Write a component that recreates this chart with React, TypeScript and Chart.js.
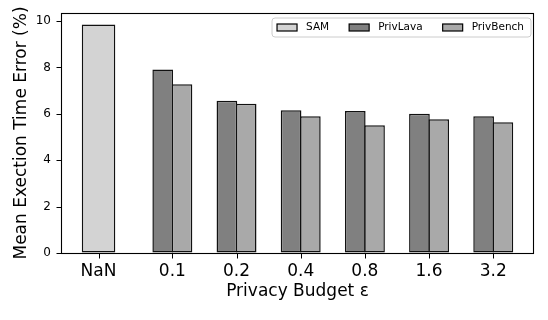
import React, { useEffect, useRef } from 'react';
import { Chart, registerables } from 'chart.js';

Chart.register(...registerables);

// ---- data ----
const categories = ['NaN', '0.1', '0.2', '0.4', '0.8', '1.6', '3.2'];
const seriesLabels = ['SAM', 'PrivLava', 'PrivBench'];
const samValues = [9.85];
const privLavaValues = [7.91, 6.57, 6.16, 6.12, 6.01, 5.9];
const privBenchValues = [7.28, 6.44, 5.9, 5.51, 5.77, 5.64];
const yTicks = [0, 2, 4, 6, 8, 10];

// ---- layout / style ----
const NAN_POS = -1.15;
const OFFSET = 0.15;
const positions = categories.map((_, i) => (i === 0 ? NAN_POS : i - 1));
const colors = ['#d3d3d3', '#808080', '#a9a9a9'];
const FONT = '"DejaVu Sans", sans-serif';
const TICK_LEN = 5;

const framePlugin = {
  id: 'frame',
  afterDraw(chart: any) {
    const { ctx, chartArea: a } = chart;
    ctx.save();
    ctx.strokeStyle = '#000';
    ctx.lineWidth = 1.1;
    const l = Math.round(a.left) + 0.5;
    const t = Math.round(a.top) + 0.5;
    const r = Math.round(a.right) - 0.5;
    const b = Math.round(a.bottom) + 0.5;
    ctx.strokeRect(l, t, r - l, b - t);
    // tick marks
    const xs = chart.scales.x;
    const ys = chart.scales.y;
    ctx.lineWidth = 1;
    ctx.beginPath();
    xs.ticks.forEach((tk: any) => {
      const px = Math.round(xs.getPixelForValue(tk.value)) + 0.5;
      ctx.moveTo(px, b);
      ctx.lineTo(px, b + TICK_LEN);
    });
    ys.ticks.forEach((tk: any) => {
      const py = Math.round(ys.getPixelForValue(tk.value)) + 0.5;
      ctx.moveTo(l, py);
      ctx.lineTo(l - TICK_LEN, py);
    });
    ctx.stroke();
    ctx.restore();
  },
};

const legendPlugin = {
  id: 'customLegend',
  afterDraw(chart: any) {
    const { ctx, chartArea: a } = chart;
    const ds = chart.data.datasets;
    ctx.save();
    ctx.font = `10.5px ${FONT}`;
    const padL = 5, padR = 7, sw = 20, sh = 7, gap = 9, col = 20, boxH = 19;
    const widths = ds.map((d: any) => ctx.measureText(d.label).width);
    let total = padL + padR + col * (ds.length - 1);
    widths.forEach((w: number) => (total += sw + gap + w));
    const right = a.right - 3;
    const left = right - total;
    const top = a.top + 5;
    ctx.beginPath();
    const rad = 3;
    ctx.moveTo(left + rad, top);
    ctx.arcTo(right, top, right, top + boxH, rad);
    ctx.arcTo(right, top + boxH, left, top + boxH, rad);
    ctx.arcTo(left, top + boxH, left, top, rad);
    ctx.arcTo(left, top, right, top, rad);
    ctx.closePath();
    ctx.fillStyle = 'rgba(255,255,255,0.8)';
    ctx.fill();
    ctx.strokeStyle = '#cccccc';
    ctx.lineWidth = 1;
    ctx.stroke();
    let x = left + padL;
    const cy = top + boxH / 2;
    ds.forEach((d: any, i: number) => {
      ctx.fillStyle = d.backgroundColor;
      ctx.fillRect(x, cy - sh / 2, sw, sh);
      ctx.strokeStyle = '#000';
      ctx.lineWidth = 1.2;
      ctx.strokeRect(x, cy - sh / 2, sw, sh);
      ctx.fillStyle = '#000';
      ctx.textBaseline = 'middle';
      ctx.textAlign = 'left';
      ctx.fillText(d.label, x + sw + gap, cy);
      x += sw + gap + widths[i] + col;
    });
    ctx.restore();
  },
};

export default function App() {
  const ref = useRef<HTMLCanvasElement | null>(null);

  useEffect(() => {
    if (!ref.current) return;
    Chart.defaults.color = '#000';
    Chart.defaults.font.family = FONT;

    const common = {
      grouped: false,
      categoryPercentage: 1,
      borderColor: '#111',
      borderWidth: 1.5,
      borderSkipped: false,
    };

    const chart = new Chart(ref.current, {
      type: 'bar',
      data: {
        datasets: [
          {
            ...common,
            label: seriesLabels[0],
            backgroundColor: colors[0],
            barPercentage: (0.5 / (2 * OFFSET)) * 1.045,
            data: samValues.map((v) => ({ x: positions[0], y: v })),
          },
          {
            ...common,
            label: seriesLabels[1],
            backgroundColor: colors[1],
            barPercentage: 1.075,
            data: privLavaValues.map((v, i) => ({ x: positions[i + 1] - OFFSET, y: v })),
          },
          {
            ...common,
            label: seriesLabels[2],
            backgroundColor: colors[2],
            barPercentage: 1.075,
            data: privBenchValues.map((v, i) => ({ x: positions[i + 1] + OFFSET, y: v })),
          },
        ] as any,
      },
      options: {
        responsive: false,
        animation: false,
        layout: { padding: { top: 13, right: 14, left: 0, bottom: 0 } },
        plugins: { legend: { display: false }, tooltip: { enabled: false } },
        scales: {
          x: {
            type: 'linear',
            min: -1.735,
            max: 5.635,
            offset: false,
            afterBuildTicks: (s: any) => {
              s.ticks = positions.map((v) => ({ value: v }));
            },
            afterFit: (s: any) => {
              s.height = 67;
            },
            grid: {
              offset: false,
              drawOnChartArea: false,
              drawTicks: true,
              tickLength: TICK_LEN,
              tickColor: 'rgba(0,0,0,0)',
            },
            border: { display: false },
            ticks: {
              autoSkip: false,
              maxRotation: 0,
              padding: 3,
              font: { size: 17, family: FONT },
              color: '#000',
              callback: (_v: any, i: number) => categories[i],
            },
            title: {
              display: true,
              text: 'Privacy Budget ε',
              font: { size: 17, family: FONT },
              color: '#000',
              padding: { top: 0, bottom: 18 },
            },
          },
          y: {
            type: 'linear',
            min: 0,
            max: 10.35,
            afterBuildTicks: (s: any) => {
              s.ticks = yTicks.map((v) => ({ value: v }));
            },
            afterFit: (s: any) => {
              s.width = 61;
            },
            grid: {
              offset: false,
              drawOnChartArea: false,
              drawTicks: true,
              tickLength: TICK_LEN,
              tickColor: 'rgba(0,0,0,0)',
            },
            border: { display: false },
            ticks: {
              padding: 5,
              font: { size: 12, family: FONT },
              color: '#000',
              callback: (v: any) => String(v),
            },
            title: {
              display: true,
              text: 'Mean Exection Time Error (%)',
              font: { size: 17, family: FONT },
              color: '#000',
              padding: { top: 11, bottom: 0 },
            },
          },
        },
      } as any,
      plugins: [framePlugin, legendPlugin],
    });

    return () => chart.destroy();
  }, []);

  return (
    <div style={{ position: 'absolute', left: 0, top: 0, width: 548, height: 320, background: '#fff' }}>
      <canvas ref={ref} width={548} height={320} style={{ display: 'block' }} />
    </div>
  );
}
